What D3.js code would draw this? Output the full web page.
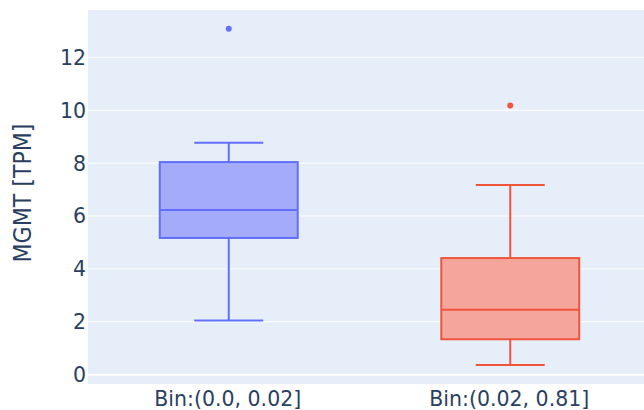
<!DOCTYPE html>
<html>
<head>
<meta charset="utf-8">
<script src="https://cdn.jsdelivr.net/npm/d3@7"></script>
<style>
  body { margin: 0; background: white; }
  svg { display: block; }
</style>
</head>
<body>
<div id="chart"></div>
<script>
// box statistics
const categories = ["Bin:(0.0, 0.02]", "Bin:(0.02, 0.81]"];
const lowerFence = [2.05, 0.37];
const q1 = [5.17, 1.34];
const median = [6.23, 2.46];
const q3 = [8.04, 4.41];
const upperFence = [8.77, 7.17];
const outliers = [[13.08], [10.18]];
const colors = ["#636efa", "#EF553B"];
const fills = ["#a4abf9", "#f4a69c"];
const yTicks = [0, 2, 4, 6, 8, 10, 12];

let width = 644;
let height = 410;
let plotLeft = 88, plotRight = 651, plotTop = 10, plotBottom = 384;

let svg = d3.select('#chart')
    .append('svg')
    .attr('width', width)
    .attr('height', height)
    .style('font-family', '"DejaVu Sans", Verdana, sans-serif');

let x = d3.scaleBand()
    .domain(categories)
    .range([plotLeft, plotRight])
    .padding(0);

let y = d3.scaleLinear()
    .domain([-0.352, 13.79])
    .range([plotBottom, plotTop]);

// plot background
svg.append('rect')
    .attr('x', plotLeft)
    .attr('y', plotTop)
    .attr('width', plotRight - plotLeft)
    .attr('height', plotBottom - plotTop)
    .attr('fill', '#E6EEFA');

// grid
svg.selectAll('.grid')
    .data(yTicks)
    .enter().append('line')
    .attr('class', 'grid')
    .attr('x1', plotLeft)
    .attr('x2', plotRight)
    .attr('y1', d => y(d))
    .attr('y2', d => y(d))
    .attr('stroke', 'white')
    .attr('stroke-width', d => d === 0 ? 2 : 1);

// y tick labels
svg.selectAll('.ytick')
    .data(yTicks)
    .enter().append('text')
    .attr('class', 'ytick')
    .attr('x', 86)
    .attr('y', d => y(d))
    .attr('dy', '0.36em')
    .attr('text-anchor', 'end')
    .attr('font-size', 20.5)
    .attr('fill', '#2a3f5f')
    .text(d => d);

// x tick labels
svg.selectAll('.xtick')
    .data(categories)
    .enter().append('text')
    .attr('class', 'xtick')
    .attr('x', d => x(d) + x.bandwidth() / 2 - 1)
    .attr('y', 406)
    .attr('text-anchor', 'middle')
    .attr('font-size', 20.5)
    .attr('fill', '#2a3f5f')
    .text(d => d);

// y axis title
svg.append('text')
    .attr('transform', 'translate(31,193) rotate(-90)')
    .attr('text-anchor', 'middle')
    .attr('font-size', 25)
    .attr('font-family', '"DejaVu Sans Condensed", "DejaVu Sans", sans-serif')
    .attr('textLength', 139)
    .attr('lengthAdjust', 'spacingAndGlyphs')
    .attr('fill', '#2a3f5f')
    .text('MGMT [TPM]');

// boxes
let boxW = x.bandwidth() * 0.49;
let boxes = svg.selectAll('.box')
    .data(categories)
    .enter().append('g')
    .attr('class', 'box');

boxes.each(function (cat, i) {
    let g = d3.select(this);
    let cx = x(cat) + x.bandwidth() / 2;
    let c = colors[i];

    // whisker stems
    g.append('line')
        .attr('x1', cx).attr('x2', cx)
        .attr('y1', y(q3[i])).attr('y2', y(upperFence[i]))
        .attr('stroke', c).attr('stroke-width', 2);
    g.append('line')
        .attr('x1', cx).attr('x2', cx)
        .attr('y1', y(q1[i])).attr('y2', y(lowerFence[i]))
        .attr('stroke', c).attr('stroke-width', 2);
    // whisker caps
    [upperFence[i], lowerFence[i]].forEach(v => {
        g.append('line')
            .attr('x1', cx - boxW / 4).attr('x2', cx + boxW / 4)
            .attr('y1', y(v)).attr('y2', y(v))
            .attr('stroke', c).attr('stroke-width', 2);
    });

    g.append('rect')
        .attr('x', cx - boxW / 2)
        .attr('y', y(q3[i]))
        .attr('width', boxW)
        .attr('height', y(q1[i]) - y(q3[i]))
        .attr('fill', fills[i])
        .attr('stroke', c)
        .attr('stroke-width', 2);

    g.append('line')
        .attr('x1', cx - boxW / 2).attr('x2', cx + boxW / 2)
        .attr('y1', y(median[i])).attr('y2', y(median[i]))
        .attr('stroke', c).attr('stroke-width', 2);

    g.selectAll('.outlier')
        .data(outliers[i])
        .enter().append('circle')
        .attr('class', 'outlier')
        .attr('cx', cx)
        .attr('cy', d => y(d))
        .attr('r', 3)
        .attr('fill', c);
});
</script>
</body>
</html>
